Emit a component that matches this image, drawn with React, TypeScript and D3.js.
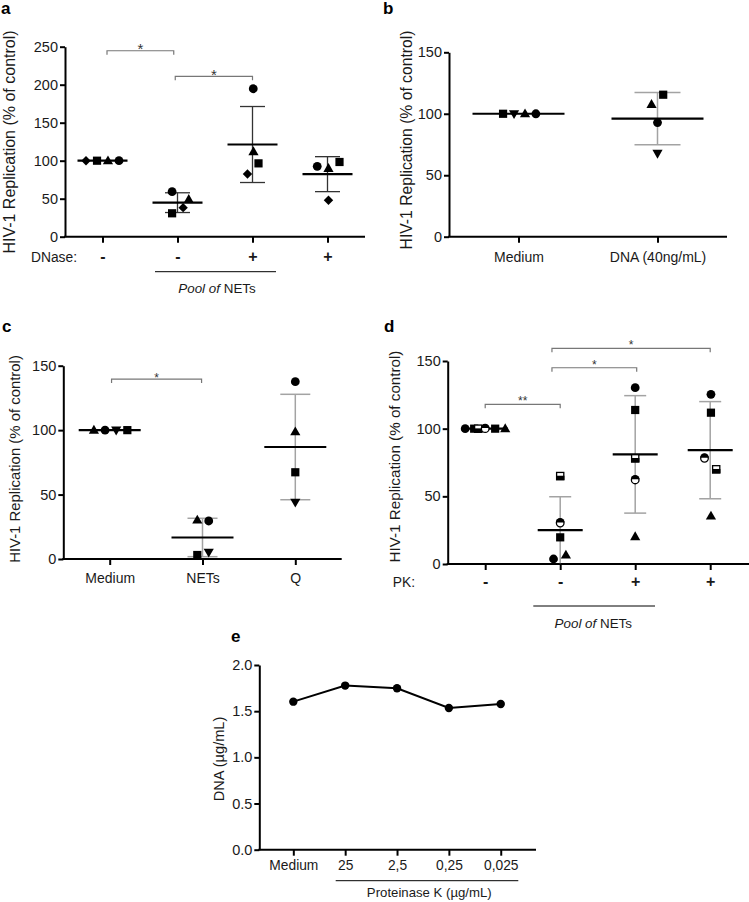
import { useEffect, useRef } from "react";
import * as d3 from "d3";

const FONT = "'Liberation Sans', Arial, Helvetica, sans-serif";

// ---- panel a : Pool of NETs +/- DNase
const aTicks = ["-", "-", "+", "+"];
const aMean = [100, 44.8, 121.3, 82.3];
const aSd = [0, 13, 50, 23];
// [group, jitter (group units), value, marker]
const aPoints: any[] = [
  [0, -0.22, 100, "diamond"], [0, -0.073, 100, "square"], [0, 0.073, 100, "triangle"], [0, 0.22, 100, "circle"],
  [1, -0.072, 59.2, "circle"], [1, 0.15, 49.2, "triangle"], [1, 0.075, 38.2, "diamond"], [1, -0.072, 30.8, "square"],
  [2, 0.01, 194.7, "circle"], [2, 0.013, 112, "triangle"], [2, 0.08, 96.5, "square"], [2, -0.067, 82.5, "diamond"],
  [3, -0.137, 92.6, "circle"], [3, 0.013, 90, "triangle"], [3, 0.16, 98.3, "square"], [3, 0.013, 48, "diamond"],
];
// [from group, to group, height value, label]
const aBrackets: any[] = [
  [0.06, 0.95, 244.7, "*"],
  [0.97, 2.0, 211, "*"],
];

// ---- panel b : DNA alone
const bTicks = ["Medium", "DNA (40ng/mL)"];
const bMean = [100, 96];
const bSd = [0, 21.2];
const bPoints: any[] = [
  [0, -0.111, 100, "square"], [0, -0.032, 100, "invTriangle"], [0, 0.047, 100, "triangle"], [0, 0.125, 100, "circle"],
  [1, 0.041, 115.5, "square"], [1, -0.043, 107.7, "triangle"], [1, 0, 92.8, "circle"], [1, 0, 67.8, "invTriangle"],
];

// ---- panel c : NETs vs Q
const cTicks = ["Medium", "NETs", "Q"];
const cMean = [100, 16.7, 86.9];
const cSd = [0, 14.9, 40.9];
const cPoints: any[] = [
  [0, -0.17, 100, "triangle"], [0, -0.05, 100, "circle"], [0, 0.07, 100, "invTriangle"], [0, 0.19, 100, "square"],
  [1, -0.056, 30.3, "triangle"], [1, 0.067, 29.5, "circle"], [1, -0.056, 3.1, "square"], [1, 0.067, 5.2, "invTriangle"],
  [2, 0, 137.6, "circle"], [2, 0, 98.8, "triangle"], [2, 0, 67.3, "square"], [2, 0, 44, "invTriangle"],
];
const cBrackets: any[] = [[0.02, 0.99, 139.6, "*"]];

// ---- panel d : Pool of NETs +/- PK
const dTicks = ["-", "-", "+", "+"];
const dMean = [100, 25.1, 81, 84.1];
const dSd = [0, 24.6, 43.4, 35.9];
const dPoints: any[] = [
  [0, -0.267, 100, "circle"], [0, -0.147, 100, "square"], [0, -0.093, 100, "halfSquare"],
  [0, 0, 100, "halfCircle"], [0, 0.133, 100, "square"], [0, 0.267, 100, "triangle"],
  [1, 0, 65, "halfSquare"], [1, 0, 30.3, "halfCircle"], [1, 0, 19.7, "square"], [1, -0.089, 3.7, "circle"], [1, 0.076, 6.7, "triangle"],
  [2, 0, 130.3, "circle"], [2, 0, 113.8, "square"], [2, 0, 78.1, "halfSquare"], [2, 0, 62.1, "halfCircle"], [2, 0, 20.2, "triangle"],
  [3, 0.01, 125.4, "circle"], [3, 0.01, 111.8, "square"], [3, -0.076, 78.1, "halfCircle"], [3, 0.08, 70, "halfSquare"], [3, 0.01, 35.5, "triangle"],
];
const dBrackets: any[] = [
  [0, 1, 118, "**"],
  [0.89, 2.02, 145, "*"],
  [0.89, 3.0, 159.4, "*"],
];

// ---- panel e : DNA after proteinase K
const eTicks = ["Medium", "25", "2,5", "0,25", "0,025"];
const eValues = [1.603, 1.777, 1.748, 1.535, 1.578];

const yTitle = "HIV-1 Replication (% of control)";

function marker(g: any, shape: string, cx: number, cy: number) {
  const k = g.append("g").attr("transform", `translate(${cx},${cy})`);
  if (shape === "circle") {
    k.append("circle").attr("r", 4.4).attr("fill", "#000");
  } else if (shape === "square") {
    k.append("rect").attr("x", -4.1).attr("y", -4.1).attr("width", 8.2).attr("height", 8.2).attr("fill", "#000");
  } else if (shape === "triangle") {
    k.append("path").attr("d", "M0,-5.3L5.1,3.6L-5.1,3.6Z").attr("fill", "#000");
  } else if (shape === "invTriangle") {
    k.append("path").attr("d", "M0,5.3L5.1,-3.6L-5.1,-3.6Z").attr("fill", "#000");
  } else if (shape === "diamond") {
    k.append("path").attr("d", "M0,-4.7L4.7,0L0,4.7L-4.7,0Z").attr("fill", "#000");
  } else if (shape === "halfSquare") {
    k.append("rect").attr("x", -3.6).attr("y", -3.6).attr("width", 7.2).attr("height", 7.2)
      .attr("fill", "#fff").attr("stroke", "#000").attr("stroke-width", 1.3);
    k.append("rect").attr("x", -4.2).attr("y", -0.3).attr("width", 8.4).attr("height", 4.5).attr("fill", "#000");
  } else if (shape === "halfCircle") {
    k.append("circle").attr("r", 3.8).attr("fill", "#fff").attr("stroke", "#000").attr("stroke-width", 1.3);
    k.append("path").attr("d", "M-4.4,-0.6A4.4,4.4 0 0 1 4.4,-0.6Z").attr("fill", "#000");
  }
}

function drawPanel(svg: any, p: any) {
  const g = svg.append("g");
  const x = d3.scaleLinear().domain(p.xDomain).range(p.xRange);
  const y = d3.scaleLinear().domain(p.yDomain).range(p.yRange);
  const y0 = p.yRange[0];

  // y axis
  const ya = g.append("g").attr("transform", `translate(${p.xRange[0]},0)`)
    .call(d3.axisLeft(y).tickValues(p.yTicks).tickSize(5).tickSizeOuter(0).tickPadding(2)
      .tickFormat(p.yFormat || ((d: any) => `${d}`)));
  ya.selectAll("path, line").attr("stroke", "#000").attr("stroke-width", 2);
  ya.selectAll("text").attr("font-family", FONT).attr("font-size", 14.5).attr("fill", "#1a1a1a");

  // x axis
  const groups = p.ticks.map((_: any, i: number) => i);
  const xa = g.append("g").attr("transform", `translate(0,${y0})`)
    .call(d3.axisBottom(x).tickValues(groups).tickSize(6).tickSizeOuter(0).tickPadding(p.xPad)
      .tickFormat((d: any) => p.ticks[d]));
  xa.select(".domain").remove();
  xa.selectAll("line").attr("stroke", "#000").attr("stroke-width", 2);
  xa.selectAll("text").attr("font-family", FONT).attr("font-size", p.xFs || 14)
    .attr("font-weight", p.xBold ? "bold" : null).attr("fill", "#1a1a1a");
  g.append("line")
    .attr("x1", p.xRange[0] - 1).attr("x2", p.axisEnd)
    .attr("y1", y0).attr("y2", y0)
    .attr("stroke", "#000").attr("stroke-width", 2);

  // y title
  g.append("text")
    .attr("transform", `translate(${p.titleX},${p.titleY}) rotate(-90)`)
    .attr("text-anchor", "middle")
    .attr("font-family", FONT).attr("font-size", p.titleFs).attr("fill", "#1a1a1a")
    .text(p.title);

  // panel letter
  g.append("text").attr("x", p.letterX).attr("y", p.letterY)
    .attr("font-family", FONT).attr("font-size", 17).attr("font-weight", "bold")
    .text(p.letter);

  if (p.means) {
    // error bars
    p.means.forEach((m: number, i: number) => {
      const sd = p.sds[i];
      if (!sd) return;
      const cx = x(i);
      const eg = g.append("g").attr("stroke", p.errColor).attr("stroke-width", p.errW);
      eg.append("line").attr("x1", cx).attr("x2", cx).attr("y1", y(m + sd)).attr("y2", Math.min(y0, y(m - sd)));
      eg.append("line").attr("x1", cx - p.capW / 2).attr("x2", cx + p.capW / 2).attr("y1", y(m + sd)).attr("y2", y(m + sd));
      if (y(m - sd) < y0 - 1)
        eg.append("line").attr("x1", cx - p.capW / 2).attr("x2", cx + p.capW / 2).attr("y1", y(m - sd)).attr("y2", y(m - sd));
    });
    // mean lines
    p.means.forEach((m: number, i: number) => {
      g.append("line")
        .attr("x1", x(i) - p.meanW / 2).attr("x2", x(i) + p.meanW / 2)
        .attr("y1", y(m)).attr("y2", y(m))
        .attr("stroke", "#000").attr("stroke-width", 2.2);
    });
    // points
    p.points.forEach((d: any) => marker(g, d[3], x(d[0] + d[1]), y(d[2])));
  }

  // significance brackets
  (p.brackets || []).forEach((b: any) => {
    const by = y(b[2]);
    const x1 = x(b[0]);
    const x2 = x(b[1]);
    g.append("path")
      .attr("d", `M${x1},${by + 4}V${by}H${x2}V${by + 4}`)
      .attr("fill", "none").attr("stroke", "#777").attr("stroke-width", 1.2);
    g.append("text")
      .attr("x", (x1 + x2) / 2).attr("y", by + p.starDy)
      .attr("text-anchor", "middle")
      .attr("font-family", FONT).attr("font-size", p.starFs).attr("fill", "#333")
      .text(b[3]);
  });

  return { g, x, y };
}

const App = () => {
  const svgRef = useRef(null);

  useEffect(() => {
    if (!svgRef.current) return;
    const svg = d3.select(svgRef.current);
    svg.selectAll("*").remove();

    // a
    const a = drawPanel(svg, {
      letter: "a", letterX: 1, letterY: 14,
      ticks: aTicks, xDomain: [-0.5, 3.5], xRange: [65, 365], axisEnd: 365,
      yDomain: [0, 250], yRange: [236.7, 46.7], yTicks: d3.range(0, 251, 50),
      xPad: 7.5, xFs: 16, xBold: true,
      title: yTitle, titleX: 15, titleY: 142, titleFs: 16,
      means: aMean, sds: aSd, points: aPoints,
      meanW: 50, capW: 25, errColor: "#333", errW: 1.3,
      brackets: aBrackets, starFs: 15, starDy: 3.4,
    });
    a.g.append("text").attr("x", 77).attr("y", 261.7).attr("text-anchor", "end")
      .attr("font-family", FONT).attr("font-size", 13.8).attr("fill", "#1a1a1a").text("DNase:");
    a.g.append("line").attr("x1", 155).attr("x2", 276).attr("y1", 271.7).attr("y2", 271.7)
      .attr("stroke", "#000").attr("stroke-width", 1);
    const at = a.g.append("text").attr("x", 217).attr("y", 293).attr("text-anchor", "middle")
      .attr("font-family", FONT).attr("font-size", 13.4).attr("fill", "#1a1a1a");
    at.append("tspan").attr("font-style", "italic").text("Pool of");
    at.append("tspan").text(" NETs");

    // b
    drawPanel(svg, {
      letter: "b", letterX: 383, letterY: 14,
      ticks: bTicks, xDomain: [-0.5, 1.5], xRange: [449, 727], axisEnd: 727,
      yDomain: [0, 150], yRange: [236.7, 52.3], yTicks: [0, 50, 100, 150],
      xPad: 9,
      title: yTitle, titleX: 412, titleY: 140, titleFs: 15.7,
      means: bMean, sds: bSd, points: bPoints,
      meanW: 92, capW: 46, errColor: "#a3a3a3", errW: 1.5,
    });

    // c
    drawPanel(svg, {
      letter: "c", letterX: 2, letterY: 332,
      ticks: cTicks, xDomain: [-0.5, 2.5], xRange: [63.3, 341.7], axisEnd: 341.7,
      yDomain: [0, 150], yRange: [559, 365.7], yTicks: [0, 50, 100, 150],
      xPad: 8.4,
      title: yTitle, titleX: 19.5, titleY: 459, titleFs: 14.9,
      means: cMean, sds: cSd, points: cPoints,
      meanW: 62, capW: 30, errColor: "#a3a3a3", errW: 1.5,
      brackets: cBrackets, starFs: 12, starDy: 2.5,
    });

    // d
    const dd = drawPanel(svg, {
      letter: "d", letterX: 384, letterY: 332,
      ticks: dTicks, xDomain: [-0.5, 3.5], xRange: [447.7, 747.7], axisEnd: 749,
      yDomain: [0, 150], yRange: [564, 361], yTicks: [0, 50, 100, 150],
      xPad: 6, xFs: 16, xBold: true,
      title: yTitle, titleX: 399.5, titleY: 456.5, titleFs: 15.2,
      means: dMean, sds: dSd, points: dPoints,
      meanW: 45, capW: 22, errColor: "#a3a3a3", errW: 1.5,
      brackets: dBrackets, starFs: 12, starDy: 1,
    });
    dd.g.append("text").attr("x", 415).attr("y", 587.3).attr("text-anchor", "end")
      .attr("font-family", FONT).attr("font-size", 13.8).attr("fill", "#1a1a1a").text("PK:");
    dd.g.append("line").attr("x1", 533.3).attr("x2", 655).attr("y1", 606).attr("y2", 606)
      .attr("stroke", "#000").attr("stroke-width", 1);
    const dt = dd.g.append("text").attr("x", 593.3).attr("y", 628).attr("text-anchor", "middle")
      .attr("font-family", FONT).attr("font-size", 13.4).attr("fill", "#1a1a1a");
    dt.append("tspan").attr("font-style", "italic").text("Pool of");
    dt.append("tspan").text(" NETs");

    // e
    const e = drawPanel(svg, {
      letter: "e", letterX: 231, letterY: 642,
      ticks: eTicks, xDomain: [-0.656, 4.68], xRange: [259.3, 536], axisEnd: 536,
      yDomain: [0, 2], yRange: [849.7, 665], yTicks: [0, 0.5, 1, 1.5, 2],
      yFormat: d3.format(".1f"),
      xPad: 4.4, xFs: 13.8,
      title: "DNA (µg/mL)", titleX: 224, titleY: 759, titleFs: 14.6,
    });
    const line = d3.line<number>().x((_, i) => e.x(i)).y((d) => e.y(d));
    e.g.append("path").datum(eValues).attr("d", line as any)
      .attr("fill", "none").attr("stroke", "#000").attr("stroke-width", 2);
    eValues.forEach((v, i) => {
      e.g.append("circle").attr("cx", e.x(i)).attr("cy", e.y(v)).attr("r", 4.2).attr("fill", "#000");
    });
    e.g.append("line").attr("x1", 335.7).attr("x2", 518.3).attr("y1", 880.7).attr("y2", 880.7)
      .attr("stroke", "#000").attr("stroke-width", 1);
    e.g.append("text").attr("x", 429.3).attr("y", 897).attr("text-anchor", "middle")
      .attr("font-family", FONT).attr("font-size", 13.2).attr("fill", "#1a1a1a")
      .text("Proteinase K (µg/mL)");
  }, []);

  return (
    <svg
      ref={svgRef}
      width={749}
      height={902}
      style={{ position: "absolute", left: 0, top: 0, background: "#fff" }}
    />
  );
};

export default App;
